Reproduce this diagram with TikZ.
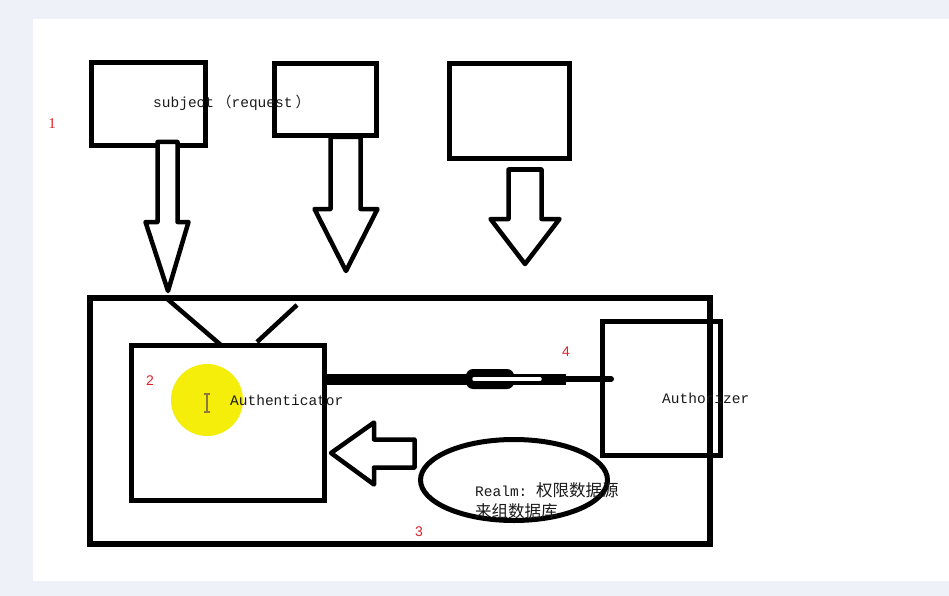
\documentclass[tikz,border=0pt]{standalone}
\usepackage{fontspec}
\setmainfont{Liberation Serif}
\setmonofont{Liberation Mono}
\newfontfamily\cjkfont{Noto Sans CJK SC}
\newfontfamily\labsans{Liberation Sans}
\usetikzlibrary{shapes.geometric}
\definecolor{bggray}{HTML}{EEF2F8}
\definecolor{txtgray}{HTML}{1A1A1A}
\definecolor{numred}{HTML}{E0242A}
\definecolor{hiyellow}{HTML}{F4EE0A}
\definecolor{cursorc}{HTML}{8C7A3C}
\tikzset{
  box/.style={draw, rectangle, line width=5pt, inner sep=0pt},
  blockarrow/.style={draw, line width=4.5pt, fill=white, line join=round},
  lbl/.style={font=\ttfamily\fontsize{14.5}{16}\selectfont, text=txtgray, inner sep=0pt, anchor=west},
  cjklbl/.style={font=\cjkfont\fontsize{16.5}{18}\selectfont, text=txtgray, inner sep=0pt, anchor=west},
  num/.style={font=\labsans\fontsize{14}{16}\selectfont, text=numred, inner sep=0pt},
  stroke/.style={line width=4.5pt}
}
\begin{document}
\begin{tikzpicture}[x=1pt,y=-1pt]
\useasboundingbox (0,0) rectangle (949,596);
% background
\fill[bggray] (0,0) rectangle (949,596);
\fill[white] (33,19) rectangle (949,581);

% top boxes
\node[box, minimum width=114pt, minimum height=83pt] (subj) at (148.5,104) {};
\node[box, minimum width=102pt, minimum height=72pt] (req2) at (325.5,99.5) {};
\node[box, minimum width=120pt, minimum height=95pt] (req3) at (509.5,111) {};
\node[lbl] (subjtxt) at (153,103) {subject\hspace{3pt}{\cjkfont （}request\hspace{3pt}{\cjkfont ）}};

% block arrows down
\draw[blockarrow] (157.5,142) -- (177.5,142) -- (177.5,222) -- (188.5,222) -- (168,291) -- (145.5,222) -- (157.5,222) -- cycle;
\draw[blockarrow] (330.5,137) -- (360.5,137) -- (360.5,209) -- (377.5,209) -- (346,271) -- (314.5,209) -- (330.5,209) -- cycle;
\draw[blockarrow] (508.5,169.5) -- (541.5,169.5) -- (541.5,219) -- (559.5,219) -- (525,264) -- (490.5,219) -- (508.5,219) -- cycle;

% security manager frame
\node[box, line width=6pt, minimum width=620pt, minimum height=246pt] (sec) at (400,421) {};

% authenticator
\node[box, minimum width=193pt, minimum height=155pt] (auth) at (228,423) {};
\fill[hiyellow] (207,400) circle (36pt);
\draw[cursorc, line width=1.2pt] (207,394) -- (207,412) (204,394) -- (210,394) (204,412) -- (210,412);
\node[lbl] (authtxt) at (230,400) {Authenticator};

% authorizer
\node[box, minimum width=118pt, minimum height=134pt] (authz) at (661.5,388.5) {};
\node[lbl] (authztxt) at (662,398) {Authorizer};

% diagonal strokes
\coordinate (d1a) at (165,297);
\coordinate (d1b) at (222,346);
\coordinate (d2a) at (257,342);
\coordinate (d2b) at (297,305);
\draw[stroke] (d1a) -- (d1b);
\draw[stroke] (d2a) -- (d2b);

% connector authenticator -- authorizer
\coordinate (ta) at (326,379);
\coordinate (tm) at (467,379);
\coordinate (tn) at (513,379);
\coordinate (tq) at (566,379);
\coordinate (tb) at (611,379);
\draw[line width=11pt] (ta) -- (tm);
\fill[rounded corners=7pt] (466,369) rectangle (514,389);
\draw[line width=11pt] (tn) -- (tq);
\draw[line width=6pt, line cap=round] (tq) -- (tb);
\draw[white, line width=3.5pt, line cap=round] (474,379) -- (540,379);

% realm arrow and ellipse
\draw[blockarrow] (331,453) -- (374,422.5) -- (374,439.5) -- (414.5,439.5) -- (414.5,467.5) -- (374,467.5) -- (374,484.5) -- cycle;
\node[draw, ellipse, line width=5pt, minimum width=187pt, minimum height=81pt, inner sep=0pt] (realm) at (514,480) {};
\node[lbl] (realmtxt1) at (475,490) {Realm: {\cjkfont\fontsize{16.5}{18}\selectfont 权限数据源}};
\node[cjklbl] (realmtxt2) at (475,511) {来组数据库};

% red numbers
\node[num, font=\rmfamily\fontsize{15}{17}\selectfont] (n1) at (52,124) {1};
\node[num] (n2) at (150,381) {2};
\node[num] (n3) at (419,532) {3};
\node[num] (n4) at (566,352) {4};
\end{tikzpicture}
\end{document}
